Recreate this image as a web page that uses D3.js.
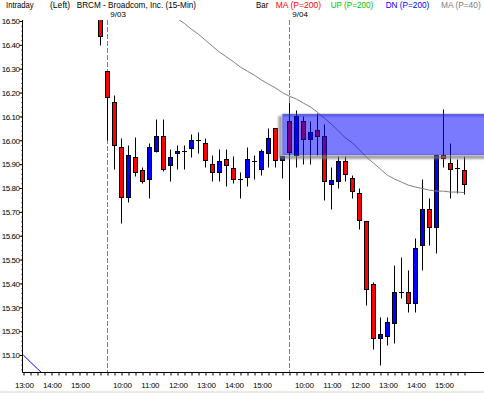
<!DOCTYPE html>
<html>
<head>
<meta charset="utf-8">
<script src="https://cdn.jsdelivr.net/npm/d3@7"></script>
<style>
body { margin: 0; background: #fff; }
svg { display: block; font-family: "Liberation Sans", Arial, sans-serif; }
</style>
</head>
<body>
<svg width="484" height="393"></svg>
<script>

// sessions and bar times (15-min bars)
var days = ["9/02", "9/03", "9/04"];
var priorTimes = ["13:00","13:15","13:30","13:45","14:00","14:15","14:30","14:45","15:00","15:15","15:30","15:45"];
var sessionTimes = ["9:30","9:45","10:00","10:15","10:30","10:45","11:00","11:15","11:30","11:45","12:00","12:15","12:30",
    "12:45","13:00","13:15","13:30","13:45","14:00","14:15","14:30","14:45","15:00","15:15","15:30","15:45"];

// candles start with the 9/02 15:45 bar (the earlier ones sit above the chart)
var candleStart = 11;
var open  = [16.56,
    16.29, 16.16, 15.97, 15.764, 15.93, 15.874, 15.836, 15.956, 16.02, 15.895, 15.945, 15.954, 15.966,
    16.0, 15.99, 15.90, 15.866, 15.92, 15.882, 15.839, 15.845, 15.912, 15.878, 15.945, 16.05, 15.916,
    16.08, 15.937, 16.08, 16.004, 16.042, 16.02, 15.815, 15.828, 15.912, 15.84, 15.78, 15.66, 15.396,
    15.17, 15.178, 15.233, 15.362, 15.362, 15.316, 15.563, 15.71, 15.635, 15.94, 15.903, 15.882, 15.874];
var high  = [16.58,
    16.29, 16.19, 16.01, 15.98, 16.015, 15.887, 15.987, 16.09, 16.09, 15.962, 15.98, 15.98, 16.025,
    16.033, 16.01, 15.94, 15.962, 15.962, 15.933, 15.866, 15.97, 15.937, 15.962, 16.05, 16.05, 15.933,
    16.16, 16.127, 16.10, 16.08, 16.113, 16.07, 15.89, 15.933, 15.933, 15.853, 15.80, 15.66, 15.407,
    15.26, 15.258, 15.478, 15.509, 15.455, 15.589, 15.836, 15.76, 15.94, 16.13, 15.987, 15.92, 15.933];
var low   = [16.40,
    16.0, 15.88, 15.655, 15.74, 15.85, 15.82, 15.76, 15.952, 15.872, 15.83, 15.878, 15.88, 15.93,
    15.945, 15.89, 15.83, 15.828, 15.81, 15.82, 15.76, 15.81, 15.839, 15.853, 15.89, 15.89, 15.84,
    15.75, 15.89, 15.90, 15.90, 15.937, 15.75, 15.71, 15.80, 15.83, 15.76, 15.63, 15.308, 15.124,
    15.06, 15.144, 15.151, 15.34, 15.279, 15.279, 15.455, 15.56, 15.526, 15.89, 15.76, 15.78, 15.773];
var close = [16.437,
    16.18, 15.98, 15.764, 15.94, 15.866, 15.828, 15.97, 16.02, 15.878, 15.93, 15.954, 15.954, 16.0,
    16.0, 15.916, 15.866, 15.912, 15.895, 15.836, 15.839, 15.92, 15.912, 15.954, 16.01, 15.916, 15.933,
    15.95, 16.10, 16.004, 16.033, 16.017, 15.828, 15.832, 15.912, 15.857, 15.786, 15.664, 15.378, 15.17,
    15.186, 15.237, 15.362, 15.362, 15.316, 15.547, 15.71, 15.635, 15.94, 15.924, 15.878, 15.882, 15.815];

// MA (P=40), from bar 21 on
var maStart = 21;
var ma40 = [16.535, 16.51, 16.49, 16.466, 16.445, 16.42, 16.395, 16.37, 16.35, 16.33, 16.307, 16.29, 16.273,
    16.253, 16.236, 16.22, 16.20, 16.185, 16.173, 16.156, 16.14, 16.118, 16.093, 16.068, 16.04, 16.01,
    15.99, 15.96, 15.93, 15.905, 15.88, 15.854, 15.838, 15.825, 15.812, 15.804, 15.798, 15.791, 15.787,
    15.787, 15.783, 15.783, 15.781];

// DN (P=200), only its tail is in view
var dn200 = [15.10, 15.071, 15.043, 15.015];

// highlighted zone
var zoneFrom = 37, zoneTop = 16.11, zoneBottom = 15.938;

var yTicks = [16.50, 16.40, 16.30, 16.20, 16.10, 16.00, 15.90, 15.80, 15.70, 15.60, 15.50, 15.40, 15.30, 15.20, 15.10];

var legend = [
    {text: "Intraday", color: "#000", x: 6, w: 27.7},
    {text: "(Left)", color: "#000", x: 50, w: 20},
    {text: "BRCM - Broadcom, Inc. (15-Min)", color: "#000", x: 76.7, w: 119.3},
    {text: "Bar", color: "#000", x: 256, w: 12.3},
    {text: "MA (P=200)", color: "#ff0000", x: 275.7, w: 45.3},
    {text: "UP (P=200)", color: "#00c000", x: 330.7, w: 42.6},
    {text: "DN (P=200)", color: "#0000ff", x: 385.7, w: 43.6},
    {text: "MA (P=40)", color: "#808080", x: 441, w: 39.7}
];

var bars = [];
priorTimes.forEach(function(t) { bars.push({day: days[0], time: t}); });
days.slice(1).forEach(function(dd) {
    sessionTimes.forEach(function(t, j) { bars.push({day: dd, time: t, first: j == 0}); });
});

var svg = d3.select("svg"),
    width = +svg.attr("width"),
    height = +svg.attr("height");

var x = d3.scaleLinear().domain([0, bars.length - 1]).range([23.3, 464.3]);
var y = d3.scaleLinear().domain([15.1, 16.5]).range([355, 21]);

var plotTop = 20, plotBottom = 372.5, axisX = 22.5;

svg.append("rect").attr("x", 0).attr("y", 391).attr("width", width).attr("height", 2).style("fill", "#eceae4");

svg.append("defs").append("clipPath").attr("id", "plot")
    .append("rect").attr("x", 23).attr("y", plotTop).attr("width", width - 23).attr("height", plotBottom - plotTop);

var blur = svg.select("defs").append("filter").attr("id", "soft")
    .attr("x", "-20%").attr("y", "-20%").attr("width", "140%").attr("height", "140%");
blur.append("feGaussianBlur").attr("stdDeviation", 1.2);

var g = svg.append("g").attr("clip-path", "url(#plot)");

function px(v) { return Math.round(v) + 0.5; }

// day separators
var firsts = bars.map(function(b, i) { return b.first ? i : -1; }).filter(function(i) { return i >= 0; });

g.selectAll("line.sep")
    .data(firsts)
    .enter()
    .append("line")
    .attr("class", "sep")
    .attr("x1", function(d) { return px(x(d)); })
    .attr("x2", function(d) { return px(x(d)); })
    .attr("y1", plotTop)
    .attr("y2", plotBottom)
    .style("stroke", "#808080")
    .style("stroke-dasharray", "5,2");

// candles
var candles = open.map(function(o, k) {
    return {i: candleStart + k, o: o, h: high[k], l: low[k], c: close[k]};
});

var cg = g.selectAll("g.candle")
    .data(candles)
    .enter()
    .append("g")
    .attr("class", "candle");

cg.append("line")
    .attr("x1", function(d) { return px(x(d.i)); })
    .attr("x2", function(d) { return px(x(d.i)); })
    .attr("y1", function(d) { return px(y(d.h)); })
    .attr("y2", function(d) { return px(y(d.l)); })
    .style("stroke", "#000");

cg.append("rect")
    .attr("x", function(d) { return px(x(d.i)) - 2; })
    .attr("y", function(d) { return px(y(Math.max(d.o, d.c))); })
    .attr("width", 4)
    .attr("height", function(d) { return Math.max(0.01, px(y(Math.min(d.o, d.c))) - px(y(Math.max(d.o, d.c)))); })
    .style("fill", function(d) { return d.c < d.o ? "#ff0000" : (d.c > d.o ? "#0000ff" : "#000"); })
    .style("stroke", "#000");

// moving averages
var line = d3.line()
    .x(function(d) { return x(d[0]); })
    .y(function(d) { return y(d[1]); });

g.append("path")
    .datum(ma40.map(function(v, k) { return [maStart + k, v]; }))
    .attr("d", line)
    .style("fill", "none")
    .style("stroke", "#808080");

g.append("path")
    .datum(dn200.map(function(v, k) { return [k, v]; }))
    .attr("d", line)
    .style("fill", "none")
    .style("stroke", "#0000ff");

// zone with a soft shadow on the left and bottom
var zx = x(zoneFrom), zy = Math.round(y(zoneTop)), zb = Math.round(y(zoneBottom));
g.append("path")
    .attr("d", "M" + (zx - 4) + "," + (zy + 2) + "H" + (width + 5) + "V" + (zb + 4) + "H" + (zx - 4) + "Z" +
               "M" + zx + "," + zy + "H" + (width + 5) + "V" + zb + "H" + zx + "Z")
    .style("fill-rule", "evenodd")
    .style("fill", "#777")
    .style("opacity", 0.7)
    .attr("filter", "url(#soft)");

g.append("rect")
    .attr("x", zx)
    .attr("y", zy)
    .attr("width", width - zx)
    .attr("height", zb - zy)
    .style("fill", "#0000ff")
    .style("opacity", 0.52);

// y axis
var yAxis = svg.append("g")
    .attr("transform", "translate(" + axisX + ",0)")
    .call(d3.axisLeft(y).tickValues(yTicks).tickFormat(d3.format(".2f")).tickSize(3).tickPadding(0));
yAxis.select(".domain").remove();
yAxis.selectAll("text")
    .style("font-size", "8px")
    .style("letter-spacing", "-0.45px")
    .attr("font-family", null)
    .attr("dy", "0.35em");

var minor = svg.append("g")
    .attr("transform", "translate(" + axisX + ",0)")
    .call(d3.axisLeft(y).tickValues(d3.range(0, 74).map(function(k) { return 15.04 + k * 0.02; })).tickSize(1).tickFormat(""));
minor.select(".domain").remove();

svg.append("line")
    .attr("x1", axisX).attr("x2", axisX)
    .attr("y1", plotTop).attr("y2", plotBottom)
    .style("stroke", "#000");

// x axis
var xAxis = svg.append("g")
    .attr("transform", "translate(0," + plotBottom + ")")
    .call(d3.axisBottom(x).tickValues(d3.range(bars.length)).tickSize(3).tickFormat(""));
xAxis.select(".domain").remove();
xAxis.selectAll(".tick line").attr("transform", function(d) { return "translate(" + (px(x(d)) - x(d)) + ",0)"; });

svg.append("line")
    .attr("x1", axisX).attr("x2", width)
    .attr("y1", plotBottom).attr("y2", plotBottom)
    .style("stroke", "#000");

svg.selectAll("text.time")
    .data(bars.map(function(b, i) { return {i: i, t: b.time}; }).filter(function(d) { return /:00$/.test(d.t); }))
    .enter()
    .append("text")
    .attr("class", "time")
    .attr("x", function(d) { return x(d.i) + 1; })
    .attr("y", 388)
    .style("text-anchor", "middle")
    .style("font-size", "8px")
    .style("letter-spacing", "-0.3px")
    .text(function(d) { return d.t; });

// date labels
svg.selectAll("text.day")
    .data(firsts)
    .enter()
    .append("text")
    .attr("class", "day")
    .attr("x", function(d) { return x(d) + 3; })
    .attr("y", 17)
    .style("font-size", "8px")
    .text(function(d) { return bars[d].day; });

// header
svg.selectAll("text.legend")
    .data(legend)
    .enter()
    .append("text")
    .attr("class", "legend")
    .attr("x", function(d) { return d.x; })
    .attr("y", 8)
    .attr("textLength", function(d) { return d.w; })
    .attr("lengthAdjust", "spacingAndGlyphs")
    .style("font-size", "8.5px")
    .style("fill", function(d) { return d.color; })
    .text(function(d) { return d.text; });

</script>
</body>
</html>
